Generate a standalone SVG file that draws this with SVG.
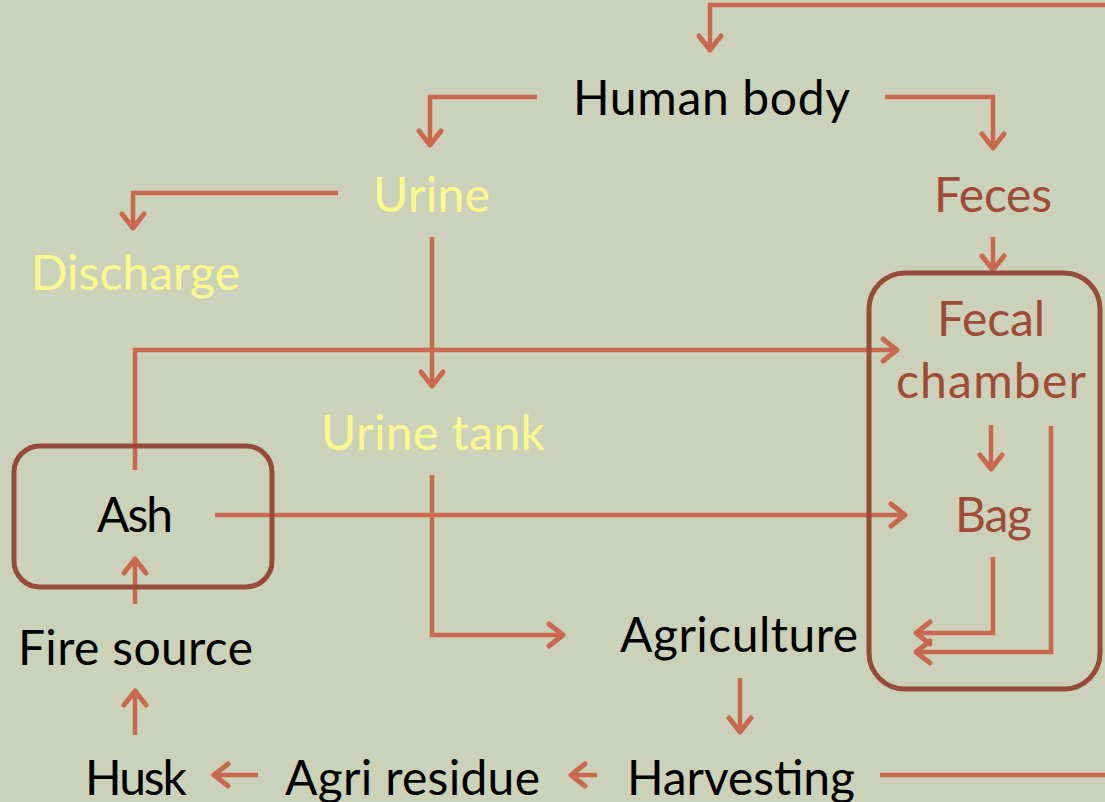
<svg xmlns="http://www.w3.org/2000/svg" width="1105" height="802" viewBox="0 0 1105 802">
<defs>
<marker id="arr" markerUnits="userSpaceOnUse" markerWidth="40" markerHeight="40" viewBox="-20 -20 40 40" refX="0" refY="0" orient="auto">
<path d="M-14,-11 L0,0 L-14,11" fill="none" stroke="#c8684f" stroke-width="5" stroke-linecap="round" stroke-linejoin="round"/>
</marker>
</defs>
<style>
text{font-family:Lato,"Open Sans","Liberation Sans",sans-serif;font-size:48px;}
.k{fill:#000}
.y{fill:#fafa8c}
.r{fill:#a04a38}
.c{fill:none;stroke:#c8684f;stroke-width:4.5;marker-end:url(#arr)}
.n{fill:none;stroke:#c8684f;stroke-width:4.5}
.box{fill:none;stroke:#974c3b;stroke-width:5}
</style>
<rect width="1105" height="802" fill="#ccd2b9"/>
<g id="connectors">
<path class="c" d="M1105,5 H710 V50"/>
<path class="c" d="M537,97 H430 V145"/>
<path class="c" d="M885,97 H993 V148"/>
<path class="c" d="M338,193 H133 V228"/>
<path class="c" d="M432,237 V386"/>
<path class="c" d="M993,237 V270"/>
<path class="c" d="M135,470 V350 H897"/>
<path class="c" d="M215,515 H905"/>
<path class="c" d="M991,425 V469"/>
<path class="c" d="M1051,426 V652 H916"/>
<path class="c" d="M993,557 V633 H916"/>
<path class="c" d="M432,475 V635 H563"/>
<path class="c" d="M740,678 V732"/>
<path class="n" d="M880,775 H1105"/>
<path class="c" d="M597,775 H571"/>
<path class="c" d="M258,775 H214"/>
<path class="c" d="M135,735 V691"/>
<path class="c" d="M135,604 V559"/>
</g>
<g id="ash"><rect class="box" x="14" y="446" width="258" height="141" rx="26"/><text class="k" x="97" y="532" textLength="76">Ash</text></g>
<g id="fecal-box"><rect class="box" x="869" y="273" width="231" height="416" rx="36"/></g>
<g id="human-body"><text class="k" x="573" y="115" textLength="277">Human body</text></g>
<g id="urine"><text class="y" x="373" y="212" textLength="117">Urine</text></g>
<g id="feces"><text class="r" x="934" y="212" textLength="118">Feces</text></g>
<g id="discharge"><text class="y" x="31" y="290" textLength="209">Discharge</text></g>
<g id="fecal-chamber"><text class="r" x="937" y="336" textLength="108">Fecal</text><text class="r" x="896" y="398" textLength="190">chamber</text></g>
<g id="urine-tank"><text class="y" x="321" y="450" textLength="224">Urine tank</text></g>
<g id="bag"><text class="r" x="955" y="532" textLength="77">Bag</text></g>
<g id="fire-source"><text class="k" x="18" y="665" textLength="235">Fire source</text></g>
<g id="agriculture"><text class="k" x="620" y="652" textLength="238">Agriculture</text></g>
<g id="husk"><text class="k" x="85" y="795" textLength="102">Husk</text></g>
<g id="agri-residue"><text class="k" x="285" y="795" textLength="255">Agri residue</text></g>
<g id="harvesting"><text class="k" x="627" y="795" textLength="228">Harvesting</text></g>
</svg>
